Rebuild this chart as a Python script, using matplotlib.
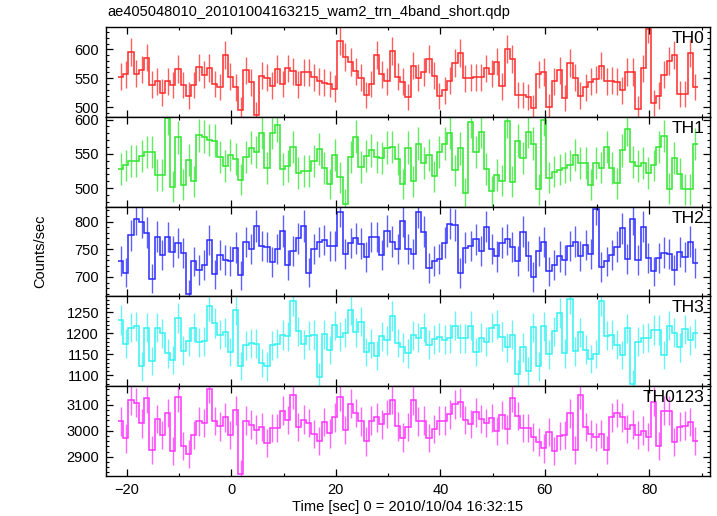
import numpy as np
import matplotlib
matplotlib.use("Agg")
import matplotlib.pyplot as plt
from matplotlib.ticker import MultipleLocator

plt.rcParams['font.family'] = ['Liberation Sans', 'DejaVu Sans']

title = "ae405048010_20101004163215_wam2_trn_4band_short.qdp"
xlabel = "Time [sec] 0 = 2010/10/04 16:32:15"
ylabel = "Counts/sec"

t_start = -21.7
bin_width = 1.0

names = ["TH0", "TH1", "TH2", "TH3", "TH0123"]

th0 = [553,557,596,558,565,586,539,545,525,545, 538,566,538,520,538,569,556,568,540,535,
       591,553,534,495,564,543,486,554,551,537, 566,540,567,562,539,560,560,552,545,542,
       540,532,615,587,578,562,551,521,540,590, 557,545,597,553,544,518,
       572,551,561,583,554,519,529,546,576,593, 550,551,552,552,567,558,579,536,601,583,
       521,521,518,499,557,561,500,545,564,515, 576,551,520,534,544,548,572,545,546,544,
       529,561,561,497,567,636,507,520,556,580, 590,523,523,594,535]
th1 = [528,533,540,539,547,553,553,519,519,602, 502,574,505,541,510,577,575,570,569,546,
       532,548,542,512,546,559,553,581,529,581, 592,528,532,560,522,525,525,539,557,529,
       506,548,516,477,546,575,531,547,555,546, 544,559,560,543,506,559,
       510,565,537,548,517,553,565,581,526,558, 493,597,553,582,528,496,519,511,598,509,
       569,544,582,565,498,600,515,524,527,530, 533,548,537,537,505,537,530,560,529,507,
       555,586,538,532,537,522,533,560,576,499, 544,521,498,498,564]
th2 = [729,708,775,804,799,780,697,773,740,772, 746,761,743,669,728,713,722,767,705,740,
       731,729,753,703,763,751,792,756,754,727, 751,783,722,747,770,792,708,750,763,767,
       756,756,818,742,761,770,760,736,772,772, 740,783,764,751,801,750,
       741,817,782,716,729,732,762,796,794,707, 753,756,768,747,791,750,737,762,768,754,
       729,782,738,700,747,763,710,722,737,730, 756,764,738,758,742,822,718,728,740,755,
       788,732,804,731,791,735,710,735,744,742, 713,745,736,764,725]
th3 = [1232,1175,1213,1217,1121,1213,1134,1213,1200,1152, 1137,1236,1159,1181,1213,1179,1181,1264,1225,1197,
       1203,1156,1256,1122,1171,1176,1175,1129,1121,1171, 1175,1196,1193,1276,1205,1174,1194,1196,1097,1198,
       1160,1219,1192,1201,1256,1202,1228,1155,1176,1147, 1193,1183,1241,1177,1167,1152,1195,1190,1213,1173,
       1186,1191,1185,1188,1218,1188,1188,1218,1155,1190, 1180,1213,1221,1192,1167,1197,1103,1167,1111,1214,
       1121,1217,1150,1205,1248,1152,1281,1157,1202,1161, 1138,1151,1276,1194,1197,1173,1148,1212,1079,1180,
       1188,1190,1208,1208,1148,1218,1201,1167,1210,1183, 1200]
th0123 = [3037,2971,3117,3109,3029,3126,2926,3045,2983,3069, 2922,3130,2943,2910,2983,3036,3030,3163,3038,3017,
          3052,2983,3079,2833,3039,3024,3005,3015,2953,3011, 3010,3078,3042,3140,3014,3043,3030,2989,2962,3034,
          2990,3052,3131,3003,3105,3069,3037,2959,3039,3052, 3025,3065,3119,3017,2974,3014,3117,3037,3039,2972,
          3007,3039,3039,3063,3103,3110,3042,3027,3072,3046, 3030,3050,2999,3061,3006,3127,3057,3011,3010,2976,
          2956,2932,2996,2923,2980,2985,3068,2927,3139,3015, 2988,2977,2987,2927,3052,3069,3052,3007,3024,2985,
          3001,2975,3113,2943,3078,3078,2956,3016,3020,3034, 2962]

series = [th0, th1, th2, th3, th0123]
colors = ["#ff2a2a", "#2ee62e", "#2a2aff", "#33f2f2", "#ff33ff"]
ylims = [(483, 639), (473, 604), (665, 827), (1074, 1288), (2826, 3172)]
yticks = [[500, 550, 600], [500, 550, 600], [700, 750, 800],
          [1100, 1150, 1200, 1250], [2900, 3000, 3100]]
yminor = [10, 10, 10, 10, 20]
xlim = (-24.0, 91.6)

W, H = 717, 516
fig = plt.figure(figsize=(W / 100, H / 100), dpi=100)
left, right, top, bottom = 106 / W, 710 / W, 1 - 27 / H, 1 - 476 / H
gs = fig.add_gridspec(5, 1, left=left, right=right, top=top, bottom=bottom, hspace=0)

for i, (name, vals, col) in enumerate(zip(names, series, colors)):
    ax = fig.add_subplot(gs[i])
    v = np.asarray(vals, dtype=float)
    n = len(v)
    edges = t_start + bin_width * np.arange(n + 1)
    centers = 0.5 * (edges[:-1] + edges[1:])
    err = np.sqrt(v * bin_width) / bin_width   # Poisson errors
    ax.vlines(centers, v - err, v + err, colors=col, lw=1.0, alpha=0.75)
    ax.stairs(v, edges, baseline=None, color=col, lw=1.1)
    ax.set_xlim(*xlim)
    ax.set_ylim(*ylims[i])
    ax.set_yticks(yticks[i])
    ax.yaxis.set_minor_locator(MultipleLocator(yminor[i]))
    ax.xaxis.set_major_locator(MultipleLocator(20))
    ax.xaxis.set_minor_locator(MultipleLocator(10))
    ax.tick_params(which='both', direction='in', top=True, right=True, labelsize=10.5, pad=5)
    ax.tick_params(which='major', length=5, width=0.9)
    ax.tick_params(which='minor', length=2.5, width=0.8)
    for s in ax.spines.values():
        s.set_linewidth(1.0)
    if i < 4:
        ax.tick_params(labelbottom=False)
    ax.text(1 - 6 / 604, 1 - 4 / 90, name, transform=ax.transAxes,
            ha='right', va='top', fontsize=12.5)

fig.text(107 / W, 1 - 12 / H, title, ha='left', va='center', fontsize=10.5)
fig.text(408 / W, 1 - 507 / H, xlabel, ha='center', va='center', fontsize=10.5)
fig.text(40 / W, 1 - 251 / H, ylabel, ha='center', va='center', rotation=90, fontsize=10.5)

fig.savefig("out.png", dpi=100)
